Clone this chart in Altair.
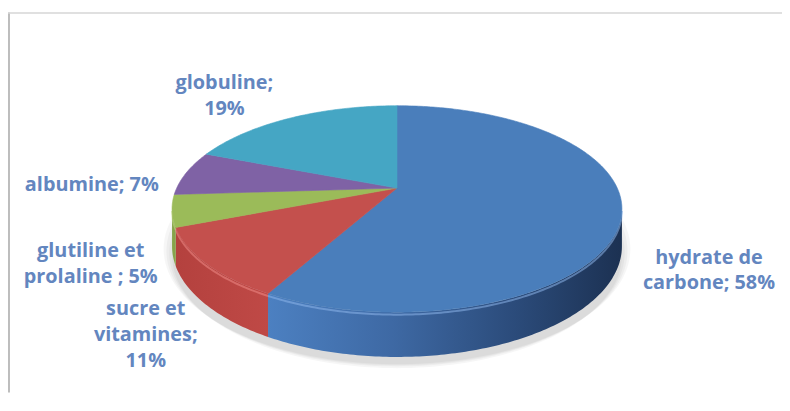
import altair as alt
import numpy as np
import pandas as pd

# ---------------- data ----------------
categories = ["hydrate de carbone", "sucre et vitamines", "glutiline et prolaline", "albumine", "globuline"]
values = [58, 11, 5, 7, 19]
label_lines = [
    ["hydrate de", "carbone; 58%"],
    ["sucre et", "vitamines;", "11%"],
    ["glutiline et", "prolaline ; 5%"],
    ["albumine; 7%"],
    ["globuline;", "19%"],
]
top_colors = ["#4a7ebb", "#c4504d", "#9bbb59", "#7f62a5", "#45a6c4"]

# ---------------- layout / 3-D projection (pixels) ----------------
W, H = 780, 386
CX, RX, B, C, K, DEPTH = 400.0, 222.0, 61.8, 188.0, 0.202, 36.0
# offset of each label's first baseline from the slice's outer edge point
label_offsets = [(88, 50), (-61, 52), (-82, 47), (-95, 18), (-67, -29)]


def project(theta_deg, r=1.0, drop=0.0):
    t = np.radians(theta_deg)
    u = r * np.sin(t)
    v = -r * np.cos(t)
    w = 1 - K * v
    return CX + RX * u / w, (B * v + C + drop) / w


total = float(sum(values))
ends = np.cumsum(values) / total * 360.0
starts = np.concatenate([[0.0], ends[:-1]])

vis_lo = np.degrees(np.arccos(-K))
vis_hi = 360.0 - vis_lo

tops, walls, edges, labels = [], [], [], []
for k, (cat, a0, a1) in enumerate(zip(categories, starts, ends)):
    n = max(int((a1 - a0) / 0.75), 2)
    th = np.linspace(a0, a1, n)
    ax, ay = project(0.0, r=0.0)
    tops.append({"cat": cat, "i": 0, "x": ax, "y": ay})
    xs, ys = project(th)
    for j, (xx, yy) in enumerate(zip(xs, ys)):
        tops.append({"cat": cat, "i": j + 1, "x": xx, "y": yy})
    # visible front wall
    lo, hi = max(a0, vis_lo), min(a1, vis_hi)
    if hi > lo:
        m = max(int((hi - lo) / 0.75), 2)
        tw = np.linspace(lo, hi, m)
        tx, ty = project(tw)
        bx, by = project(tw[::-1], drop=DEPTH)
        pts = list(zip(tx, ty)) + list(zip(bx, by))
        for j, (xx, yy) in enumerate(pts):
            walls.append({"cat": cat, "i": j, "x": xx, "y": yy})
        ex, ey = project(tw, drop=2.0)
        for j, (xx, yy) in enumerate(zip(ex, ey)):
            edges.append({"cat": cat, "i": j, "x": xx, "y": yy})
    mx, my = project((a0 + a1) / 2)
    dx, dy = label_offsets[k]
    labels.append({"cat": cat, "x": mx + dx, "y": my + dy, "text": label_lines[k]})

tops = pd.DataFrame(tops)
walls = pd.DataFrame(walls)
edges = pd.DataFrame(edges)
labels = pd.DataFrame(labels)

shadow_rows = []
for s, (r, extra) in enumerate([(1.0, 9), (1.012, 6), (1.024, 3.5), (1.036, 1)]):
    th = np.linspace(0, 360, 241)
    xs, ys = project(th, r=r, drop=DEPTH + extra)
    for j, (xx, yy) in enumerate(zip(xs, ys)):
        shadow_rows.append({"s": s, "i": j, "x": xx, "y": yy})
shadow = pd.DataFrame(shadow_rows)

X = alt.X("x:Q", scale=alt.Scale(domain=[8, 8 + W], nice=False, zero=False), axis=None)
Y = alt.Y("y:Q", scale=alt.Scale(domain=[8 + H, 8], nice=False, zero=False), axis=None)
O = alt.Order("i:Q")
col_scale = alt.Scale(domain=categories, range=top_colors)

shadow_layer = alt.Chart(shadow).mark_line(
    interpolate="linear-closed", fill="#000000", fillOpacity=0.035, strokeWidth=0
).encode(x=X, y=Y, order=O, detail="s:N")

wall_styles = {
    "hydrate de carbone": alt.Gradient(
        gradient="linear", x1=0, x2=1, y1=0, y2=0,
        stops=[alt.GradientStop(color="#4c80c1", offset=0),
               alt.GradientStop(color="#3e69a4", offset=0.35),
               alt.GradientStop(color="#2b4b7a", offset=0.7),
               alt.GradientStop(color="#1c3152", offset=1)]),
    "sucre et vitamines": alt.Gradient(
        gradient="linear", x1=0, x2=1, y1=0, y2=0,
        stops=[alt.GradientStop(color="#b4413e", offset=0),
               alt.GradientStop(color="#bf4946", offset=1)]),
    "glutiline et prolaline": "#86a34a",
}
wall_layers = []
for cat, fill in wall_styles.items():
    wall_layers.append(
        alt.Chart(walls).transform_filter(alt.datum.cat == cat).mark_line(
            interpolate="linear-closed", fill=fill, strokeWidth=0
        ).encode(x=X, y=Y, order=O)
    )

edge_layer = alt.Chart(edges).mark_line(strokeWidth=2, opacity=0.55).encode(
    x=X, y=Y, order=O,
    stroke=alt.Stroke("cat:N", scale=alt.Scale(domain=categories,
                      range=["#8db5ea", "#ee8a86", "#c3dc8c", "#a68bc8", "#86cde0"]), legend=None),
)

top_layer = alt.Chart(tops).mark_line(interpolate="linear-closed", strokeWidth=0.6).encode(
    x=X, y=Y, order=O,
    fill=alt.Fill("cat:N", scale=col_scale, legend=None),
    stroke=alt.Stroke("cat:N", scale=col_scale, legend=None),
)

text_layer = alt.Chart(labels).mark_text(
    font="Open Sans", fontWeight="bold", fontSize=20, color="#6386bf",
    align="center", baseline="alphabetic", lineHeight=26,
).encode(x=X, y=Y, text="text")

frame_dummy = pd.DataFrame({"a": [0]})
frame_left = alt.Chart(frame_dummy).mark_rule(color="#bdbdbd", strokeWidth=2).encode(
    x=alt.value(1), y=alt.value(3), y2=alt.value(H))
frame_top = alt.Chart(frame_dummy).mark_rule(color="#d6d6d6", strokeWidth=1.5).encode(
    x=alt.value(0), x2=alt.value(W), y=alt.value(3.5))

chart = alt.layer(
    shadow_layer, *wall_layers, edge_layer, top_layer, text_layer, frame_left, frame_top
).resolve_scale(stroke="independent").properties(
    width=W, height=H, padding=0, autosize="none", background="white"
).configure_view(stroke=None)

chart.save("out.html", embed_options={"renderer": "svg", "actions": False})
